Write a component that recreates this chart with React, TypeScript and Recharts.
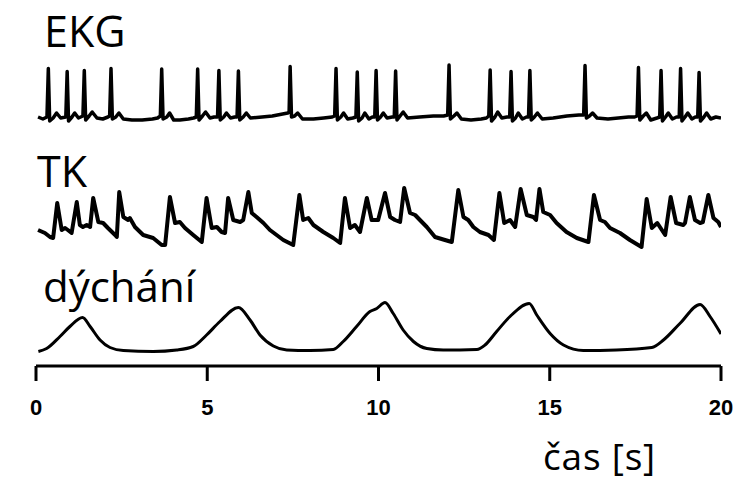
import React from "react";
import { LineChart, Line, XAxis, YAxis } from "recharts";

// time axis ticks [s]
const timeTicks = [0, 5, 10, 15, 20];

// EKG trace: [time s, voltage mV]
const ekgPoints: [number, number][] = [
  [0.06, 0.02], [0.2, -0.02],
  [0.32, 0.02], [0.36, 0.99], [0.4, -0.06], [0.5, 0.0], [0.6, 0.1], [0.72, 0.0],
  [0.87, 0.02], [0.91, 0.93], [0.95, -0.06], [1.05, 0.02], [1.13, 0.1], [1.24, 0.0],
  [1.37, 0.04], [1.41, 0.95], [1.45, -0.04], [1.55, 0.04], [1.64, 0.12], [1.78, 0.0], [1.95, -0.02], [2.1, 0.02],
  [2.15, 0.04], [2.19, 0.99], [2.23, -0.02], [2.33, 0.02], [2.42, 0.1], [2.55, -0.02], [2.8, -0.04], [3.1, -0.04], [3.4, -0.02], [3.55, 0.0],
  [3.63, 0.04], [3.67, 0.98], [3.71, -0.02], [3.82, 0.02], [3.9, 0.1], [4.02, -0.04], [4.2, -0.04], [4.45, -0.02], [4.6, 0.0],
  [4.68, 0.02], [4.72, 0.98], [4.76, -0.04], [4.86, 0.04], [4.95, 0.12], [5.08, 0.0], [5.2, 0.02],
  [5.3, 0.02], [5.34, 0.95], [5.38, -0.04], [5.48, 0.02], [5.56, 0.1], [5.68, 0.0], [5.8, 0.02],
  [5.87, 0.02], [5.91, 0.94], [5.95, -0.04], [6.05, 0.02], [6.14, 0.1], [6.26, 0.0], [6.6, 0.02], [6.9, 0.04], [7.2, 0.08], [7.35, 0.1],
  [7.39, 0.12], [7.42, 1.03], [7.46, 0.02], [7.55, 0.04], [7.64, 0.1], [7.78, -0.02], [8.1, -0.02], [8.4, 0.0], [8.65, 0.02],
  [8.72, 0.04], [8.76, 0.99], [8.8, -0.04], [8.9, 0.02], [8.98, 0.1], [9.1, -0.02], [9.25, 0.0],
  [9.34, 0.02], [9.38, 0.92], [9.42, -0.06], [9.52, 0.0], [9.6, 0.1], [9.72, -0.02], [9.82, 0.02],
  [9.89, 0.02], [9.93, 0.95], [9.97, -0.04], [10.06, 0.02], [10.14, 0.1], [10.25, 0.0], [10.4, 0.02],
  [10.46, 0.02], [10.5, 0.94], [10.54, -0.04], [10.63, 0.04], [10.72, 0.12], [10.85, 0.0], [11.2, 0.02], [11.6, 0.04], [11.9, 0.04],
  [12.02, 0.06], [12.06, 1.06], [12.1, -0.02], [12.2, 0.04], [12.29, 0.1], [12.42, -0.02], [12.7, -0.04], [13.0, -0.02], [13.15, 0.0],
  [13.22, 0.04], [13.26, 0.96], [13.3, -0.06], [13.4, 0.02], [13.48, 0.12], [13.6, 0.0], [13.75, 0.02],
  [13.83, 0.02], [13.87, 0.93], [13.91, -0.06], [14.0, 0.0], [14.08, 0.1], [14.2, -0.02], [14.32, 0.02],
  [14.38, 0.02], [14.42, 0.95], [14.46, -0.04], [14.55, 0.02], [14.64, 0.1], [14.78, -0.02], [15.1, 0.0], [15.5, 0.04], [15.85, 0.06],
  [15.99, 0.06], [16.03, 1.05], [16.07, 0.0], [16.16, 0.04], [16.25, 0.1], [16.38, 0.0], [16.7, -0.02], [17.0, 0.0], [17.3, 0.02], [17.48, 0.02],
  [17.55, 0.04], [17.59, 1.01], [17.63, -0.04], [17.73, 0.04], [17.82, 0.1], [17.95, -0.04], [18.13, 0.0],
  [18.21, 0.02], [18.25, 0.95], [18.29, -0.06], [18.38, 0.02], [18.46, 0.1], [18.58, -0.02], [18.7, 0.02],
  [18.78, 0.02], [18.82, 0.99], [18.86, -0.06], [18.95, 0.02], [19.03, 0.1], [19.15, -0.02], [19.25, 0.02],
  [19.32, 0.02], [19.36, 0.91], [19.4, -0.06], [19.5, 0.02], [19.58, 0.1], [19.7, -0.02], [19.85, 0.02], [20.0, 0.0],
];

// TK (blood pressure) trace: [time s, pressure mmHg]
const tkPoints: [number, number][] = [
  [0.06, 95], [0.26, 92], [0.41, 88], [0.5, 87], [0.62, 122], [0.75, 95], [0.85, 97], [0.93, 95], [1.04, 92],
  [1.19, 123], [1.28, 100], [1.37, 98], [1.48, 100], [1.58, 98], [1.67, 127], [1.82, 103], [1.96, 102], [2.1, 97],
  [2.31, 90], [2.36, 88], [2.43, 133], [2.55, 108], [2.69, 105], [2.74, 107], [2.89, 98], [3.13, 90], [3.42, 87],
  [3.67, 80], [3.77, 80], [3.91, 128], [4.06, 102], [4.2, 103], [4.35, 97], [4.59, 90], [4.84, 83], [4.98, 127],
  [5.13, 97], [5.28, 98], [5.42, 93], [5.52, 92], [5.61, 127], [5.76, 105], [5.96, 103], [6.05, 105], [6.2, 133],
  [6.3, 112], [6.44, 108], [6.64, 102], [6.83, 95], [7.22, 85], [7.51, 80], [7.69, 130], [7.8, 105], [7.95, 107],
  [8.1, 100], [8.39, 93], [8.68, 87], [8.88, 82], [9.02, 127], [9.17, 97], [9.31, 100], [9.46, 93], [9.66, 127],
  [9.8, 105], [9.99, 105], [10.19, 132], [10.34, 108], [10.48, 105], [10.63, 103], [10.75, 137], [10.92, 112],
  [11.07, 110], [11.21, 105], [11.41, 98], [11.65, 88], [11.94, 85], [12.14, 83], [12.33, 135], [12.48, 108],
  [12.62, 105], [12.77, 98], [12.96, 93], [13.21, 90], [13.37, 85], [13.53, 132], [13.67, 102], [13.84, 105],
  [13.99, 98], [14.15, 136], [14.33, 110], [14.52, 108], [14.6, 105], [14.7, 136], [14.81, 113], [15.01, 110],
  [15.2, 102], [15.49, 93], [15.79, 87], [16.13, 83], [16.29, 130], [16.47, 105], [16.61, 103], [16.76, 97],
  [17.05, 92], [17.34, 85], [17.68, 78], [17.83, 126], [17.98, 97], [18.14, 102], [18.37, 90], [18.53, 128],
  [18.69, 102], [18.9, 100], [18.95, 102], [19.09, 128], [19.24, 105], [19.39, 102], [19.47, 103], [19.63, 130],
  [19.78, 107], [19.92, 103], [20.0, 98],
];

// respiration trace: [time s, volume L]
const respPoints: [number, number][] = [
  [0.07, -0.01], [0.31, 0.05], [0.7, 0.29], [0.99, 0.49], [1.36, 0.67], [1.58, 0.49], [1.87, 0.22], [2.16, 0.07],
  [2.55, 0.01], [3.42, -0.01], [4.11, 0.02], [4.59, 0.09], [4.98, 0.32], [5.37, 0.59], [5.91, 0.87], [6.25, 0.62],
  [6.54, 0.32], [6.93, 0.1], [7.32, 0.02], [8.0, 0.01], [8.68, 0.03], [8.97, 0.19], [9.36, 0.49], [9.75, 0.79],
  [9.95, 0.85], [10.19, 0.97], [10.43, 0.75], [10.72, 0.42], [11.02, 0.19], [11.41, 0.05], [11.89, 0.02],
  [12.87, 0.03], [13.11, 0.12], [13.45, 0.39], [13.84, 0.69], [14.4, 0.95], [14.62, 0.72], [15.01, 0.35],
  [15.4, 0.12], [15.98, 0.01], [16.95, 0.02], [17.98, 0.07], [18.32, 0.22], [18.8, 0.55], [19.39, 0.93],
  [19.68, 0.69], [20.0, 0.34],
];

const traceLabels = ["EKG", "TK", "dýchání"];
const axisTitle = "čas [s]";

const toRows = (pts: [number, number][]) => pts.map(([t, v]) => ({ t, v }));
const ekgData = toRows(ekgPoints);
const tkData = toRows(tkPoints);
const respData = toRows(respPoints);

const labelFont = "'Open Sans', 'Noto Sans', sans-serif";

const labelStyle = (left: number, top: number, size: number, spacing = 0): React.CSSProperties => ({
  position: "absolute",
  left,
  top,
  fontFamily: labelFont,
  fontSize: size,
  lineHeight: 1,
  letterSpacing: spacing,
  color: "#000",
  whiteSpace: "nowrap",
  pointerEvents: "none",
});

export default function App() {
  return (
    <div style={{ position: "absolute", left: 0, top: 0, width: 743, height: 481, background: "#fff" }}>
      <LineChart width={743} height={481} margin={{ top: 60, right: 22, left: 36, bottom: 75 }}>
        <XAxis
          dataKey="t"
          type="number"
          domain={[0, 20]}
          ticks={timeTicks}
          interval={0}
          allowDataOverflow
          axisLine={{ stroke: "#000", strokeWidth: 3 }}
          tickLine={{ stroke: "#000", strokeWidth: 3 }}
          tickSize={15}
          tickMargin={18}
          height={40}
          tick={{ fill: "#000", fontSize: 22, fontWeight: "bold", fontFamily: "'Liberation Sans', Arial, sans-serif" }}
        />
        <YAxis yAxisId="ekg" hide type="number" domain={[-4.96, 1.16]} allowDataOverflow />
        <YAxis yAxisId="tk" hide type="number" domain={[-41, 265]} allowDataOverflow />
        <YAxis yAxisId="resp" hide type="number" domain={[-0.3, 5.82]} allowDataOverflow />
        <Line yAxisId="ekg" data={ekgData} dataKey="v" type="linear" stroke="#000" strokeWidth={3.5} dot={false} isAnimationActive={false} strokeLinejoin="round" />
        <Line yAxisId="tk" data={tkData} dataKey="v" type="linear" stroke="#000" strokeWidth={4} dot={false} isAnimationActive={false} strokeLinejoin="round" />
        <Line yAxisId="resp" data={respData} dataKey="v" type="monotone" stroke="#000" strokeWidth={3} dot={false} isAnimationActive={false} strokeLinejoin="round" />
      </LineChart>
      <div style={labelStyle(44, 9, 43)}>{traceLabels[0]}</div>
      <div style={labelStyle(37, 149, 43)}>{traceLabels[1]}</div>
      <div style={labelStyle(43, 265, 42)}>{traceLabels[2]}</div>
      <div style={labelStyle(543, 437, 37, 0.8)}>{axisTitle}</div>
    </div>
  );
}
